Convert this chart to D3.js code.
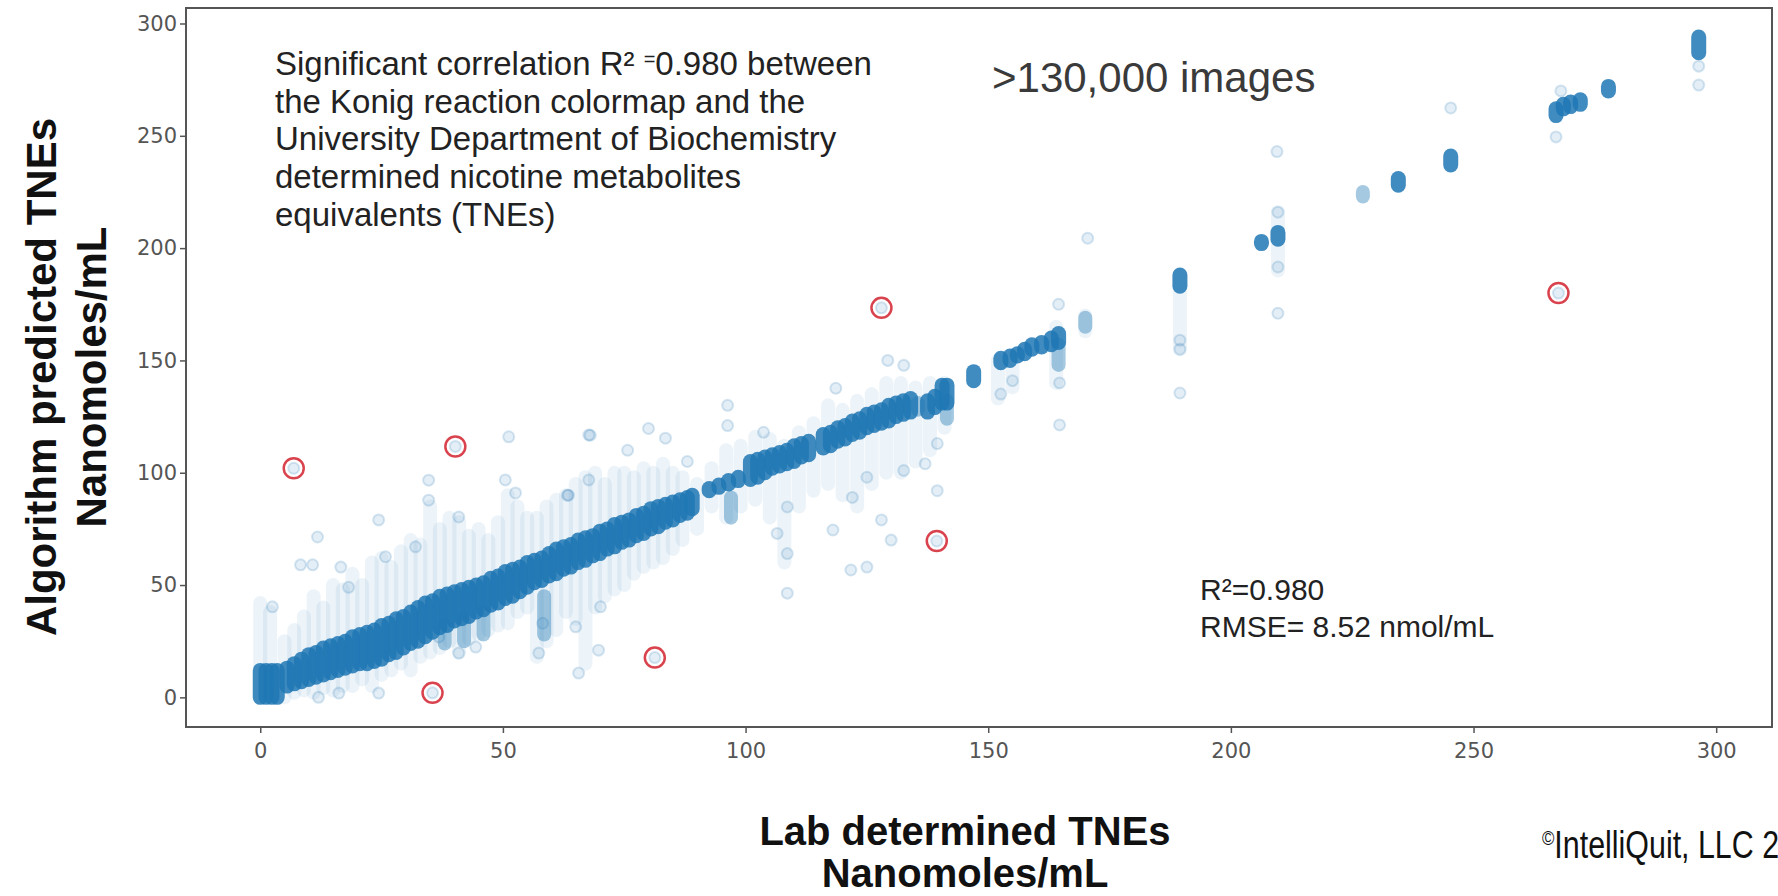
<!DOCTYPE html>
<html>
<head>
<meta charset="utf-8">
<script src="https://cdn.jsdelivr.net/npm/d3@7"></script>
<style>
body { margin: 0; background: #fff; }
svg { display: block; }
.axis text { font-family: "DejaVu Sans", sans-serif; font-size: 21px; fill: #555; }
.axis line { stroke: #555; stroke-width: 1.5; }
.axis path { display: none; }
</style>
</head>
<body>
<svg id="chart" width="1778" height="896"></svg>
<script>
const xTicks = [0, 50, 100, 150, 200, 250, 300];
const yTicks = [0, 50, 100, 150, 200, 250, 300];

// saturated stacks: lab value, lowest and highest predicted value of the overlapping dots
const coreLab = [0,1.2,2.4,3.5, 5.5,7,8.5,10,11.5,13,14.5,16,17.5,19,20.5,22,23.5,25,26.5,28,29.5,31,32.5,34,35.5,37,38.5,40,41.5,43,44.5,46,47.5,49,50.5,52,53.5,55,56.5,58,59.5,61,62.5,64,65.5,67,68.5,70,71.5,73,74.5,76,77.5,79,80.5,82,83.5,85,86.5,88,89, 92.5,94.5,96.5,98.5, 101,102.5,104,105.5,107,108.5,110,111.5,113, 116,117.5,119,120.5,122,123.5,125,126.5,128,129.5,131,132.5,134, 137.5,139,140.5,141.5, 147, 152.6,154.5,156,157.5,159,161,163,164.5, 189.5, 206.3, 209.7, 234.5, 245.3, 267,268.5,270,272, 277.8, 296.4];
const coreLo = [0,0,0,0, 5,6,7,8,9,10,11,12,13,14,15,15,16,17,19,20,22,24,25,27,29,31,32,34,35,36,38,39,41,42,44,45,47,49,51,52,54,55,57,58,60,61,63,64,66,67,69,70,72,73,75,76,78,79,81,82,84, 92,93.5,95,96.5, 97,98,100,102,103,104,105,107,108, 111,112,114,115,117,118,120,121,122,123,125,126,127, 127,129,131,131, 141, 149,150,152,153,155,156,157,158, 183, 202, 204, 228, 237, 259,262,263,264, 270, 287];
const coreHi = [12,12,12,12, 13,15,17,19,20,22,23,24,25,27,28,29,30,32,33,35,36,38,40,42,43,45,46,47,48,49,50,51,53,54,56,57,58,60,61,62,64,66,67,68,70,71,72,74,75,77,78,79,81,82,84,85,86,87,88,89,90, 93,94.5,96.5,98, 105,106,107,108,109,110,112,113,114, 117,118,120,121,123,124,126,127,128,130,131,132,133, 132,134,139,139, 145, 151,152,153,155,157,158,160,162, 188, 203, 207, 231, 241, 262,264,265,266, 272, 294];

// medium density stacks
const midLab = [38, 42, 46, 58.5, 97, 135.5, 141.5, 164.5, 170, 227.2];
const midLo = [24, 25, 28, 28, 80, 128, 124, 148, 165, 223];
const midHi = [32, 35, 38, 45, 89, 131, 132, 157, 169, 225];

// light haze of sparse dots
const hazeLab = [0,2,5,7,9,11,13,15,17,19,21,23,25,27,29,31,33,35,37,39,41,43,45,47,49,51,53,55,57,59,61,63,65,67,69,71,73,75,77,79,81,83,85,87,90,93,96,99,102,105,108,111,114,117,120,123,126,129,132,135,138,141,152,155,164,170,189.5,209.7];
const hazeLo = [0,0,0,2,3,2,4,3,5,5,8,5,10,12,15,12,18,20,22,25,20,26,28,30,32,33,38,40,18,25,30,38,35,15,40,45,48,50,55,58,60,62,66,70,75,85,80,85,88,80,60,85,92,95,90,85,95,100,100,105,110,120,133,138,140,163,155,190];
const hazeHi = [42,38,25,30,36,45,40,50,48,55,50,60,62,58,65,70,68,85,75,80,78,72,75,70,78,90,85,80,80,85,88,90,95,98,100,95,100,100,98,102,100,104,100,98,95,102,110,112,116,115,112,118,122,130,128,132,135,140,140,138,140,140,150,152,165,170,188,216];

// isolated faint dots
const looseLab = [2.5,11.8,8.3,10.8,16.6,18.2,24.4,25.8,34.7,34.7,40.9,32,51.2,50.5,52.6,67.7,67.7,63.5,36.8,40.9,44.4,24.4,16.2,12,65.6,57.4,65,58.2,70.1,69.7, 68,80,75.7,83.5,88,96.3,96.3,103.7,118.6,129.3,132.6,63.3,108.6,106.5,108.6,108.6,121.7,125,118,130,128,125,122,139.5,139.5,137,132.6, 164.5,164.7,189.5,189.5,189.5,170.5,209.7,209.7,209.7,152.6,155,164.7,209.5, 245.3,267,268,296.4,296.4];
const loosePred = [40.3,71.4,59,59,58,49,79,62.6,96.7,87.8,80.3,67,116,96.8,91,116.8,96.8,90,26.9,19.7,22.4,1.9,1.9,0,10.8,19.7,31.4,33,40.3,21, 116.7,119.7,110,115.4,105,130,121,118,137.6,150,147.8,90,84.8,73,64,46.4,56.7,58,74.5,70,79,98,89,92,113,104,101, 175,121.3,159,155,135.5,204.4,216,191.6,171,135,141,140,243, 262.4,249.5,270,281,272.6];

// circled outliers
const outlierLab = [6.9, 40.2, 35.5, 81.3, 128, 139.4, 267.5];
const outlierPred = [102, 111.7, 2, 17.7, 173.4, 69.6, 180];

const noteLines = ["the Konig reaction colormap and the", "University Department of Biochemistry", "determined nicotine metabolites", "equivalents (TNEs)"];
const statLines = ["R²=0.980", "RMSE= 8.52 nmol/mL"];

const blue = "#1f77b4";
let svg = d3.select("#chart");
let plot = {left: 186, right: 1772, top: 8, bottom: 727};

let x = d3.scaleLinear().domain([-15.3, 311.5]).range([plot.left, plot.right]);
let y = d3.scaleLinear().domain([-13.2, 306.9]).range([plot.bottom, plot.top]);

svg.append("defs").append("clipPath").attr("id", "clip")
	.append("rect")
	.attr("x", plot.left).attr("y", plot.top)
	.attr("width", plot.right - plot.left).attr("height", plot.bottom - plot.top);

let marks = svg.append("g").attr("clip-path", "url(#clip)");

// draws a vertical stack of dots as one rounded stroke
function stacks(lab, lo, hi, width, opacity) {
	marks.append("g").selectAll("line")
		.data(d3.range(lab.length))
		.join("line")
		.attr("x1", i => x(lab[i]))
		.attr("x2", i => x(lab[i]))
		.attr("y1", i => y(lo[i]))
		.attr("y2", i => y(hi[i]))
		.attr("stroke", blue)
		.attr("stroke-width", width)
		.attr("stroke-linecap", "round")
		.attr("stroke-opacity", opacity);
}

stacks(hazeLab, hazeLo, hazeHi, 14, 0.08);

// faint single dots, edge drawn like the matplotlib marker rim
let faint = looseLab.map((d, i) => ({x: d, y: loosePred[i]}))
	.concat(outlierLab.map((d, i) => ({x: d, y: outlierPred[i]})));
marks.append("g").selectAll("circle")
	.data(faint)
	.join("circle")
	.attr("cx", d => x(d.x))
	.attr("cy", d => y(d.y))
	.attr("r", 5.5)
	.attr("fill", blue)
	.attr("fill-opacity", 0.12)
	.attr("stroke", blue)
	.attr("stroke-opacity", 0.18)
	.attr("stroke-width", 2);

stacks(midLab, midLo, midHi, 14, 0.4);
stacks(coreLab, coreLo, coreHi, 15, 0.85);

// red rings round the outliers
marks.append("g").selectAll("circle")
	.data(outlierLab)
	.join("circle")
	.attr("cx", d => x(d))
	.attr("cy", (d, i) => y(outlierPred[i]))
	.attr("r", 10)
	.attr("fill", "none")
	.attr("stroke", "#d9434e")
	.attr("stroke-width", 2.5);

// frame
svg.append("rect")
	.attr("x", plot.left).attr("y", plot.top)
	.attr("width", plot.right - plot.left).attr("height", plot.bottom - plot.top)
	.attr("fill", "none")
	.attr("stroke", "#555")
	.attr("stroke-width", 2);

svg.append("g")
	.attr("class", "axis")
	.attr("transform", "translate(0," + plot.bottom + ")")
	.call(d3.axisBottom(x).tickValues(xTicks).tickSize(6).tickPadding(10));

svg.append("g")
	.attr("class", "axis")
	.attr("transform", "translate(" + plot.left + ",0)")
	.call(d3.axisLeft(y).tickValues(yTicks).tickSize(6).tickPadding(3));

// annotation block, top left
let note = svg.append("text")
	.attr("font-family", "Liberation Sans, Arial, sans-serif")
	.attr("font-size", 33)
	.attr("fill", "#222");
let first = note.append("tspan").attr("x", 275).attr("y", 75);
first.append("tspan").text("Significant correlation R² ");
first.append("tspan").attr("font-size", 20).attr("dy", -9).text("=");
first.append("tspan").attr("dy", 9).text("0.980 between");
noteLines.forEach((t, i) => {
	note.append("tspan").attr("x", 275).attr("y", 112.7 + i * 37.7).text(t);
});

svg.append("text")
	.attr("x", 992).attr("y", 92)
	.attr("font-family", "Liberation Sans, Arial, sans-serif")
	.attr("font-size", 42)
	.attr("fill", "#3a3a3a")
	.text(">130,000 images");

svg.append("g").selectAll("text")
	.data(statLines)
	.join("text")
	.attr("x", 1200)
	.attr("y", (d, i) => 600 + i * 37)
	.attr("font-family", "Liberation Sans, Arial, sans-serif")
	.attr("font-size", 30)
	.attr("fill", "#222")
	.text(d => d);

// axis titles
let xTitle = svg.append("text")
	.attr("text-anchor", "middle")
	.attr("font-family", "Liberation Sans, Arial, sans-serif")
	.attr("font-weight", "bold")
	.attr("font-size", 40)
	.attr("fill", "#111");
xTitle.append("tspan").attr("x", 965).attr("y", 845).text("Lab determined TNEs");
xTitle.append("tspan").attr("x", 965).attr("y", 887).text("Nanomoles/mL");

let yTitle = svg.append("text")
	.attr("text-anchor", "middle")
	.attr("transform", "translate(0,377) rotate(-90)")
	.attr("font-family", "Liberation Sans, Arial, sans-serif")
	.attr("font-weight", "bold")
	.attr("font-size", 42)
	.attr("fill", "#111");
yTitle.append("tspan").attr("x", 0).attr("y", 56).text("Algorithm predicted TNEs");
yTitle.append("tspan").attr("x", 0).attr("y", 106).text("Nanomoles/mL");

// condensed credit line, running into the right edge as in the slide
let copy = svg.append("text")
	.attr("transform", "translate(1542,858) scale(0.8,1)")
	.attr("font-family", "Liberation Sans, Arial, sans-serif")
	.attr("font-size", 38)
	.attr("fill", "#111");
copy.append("tspan").attr("font-size", 21).attr("dy", -13).text("©");
copy.append("tspan").attr("dy", 13).text("IntelliQuit, LLC 2");
</script>
</body>
</html>
